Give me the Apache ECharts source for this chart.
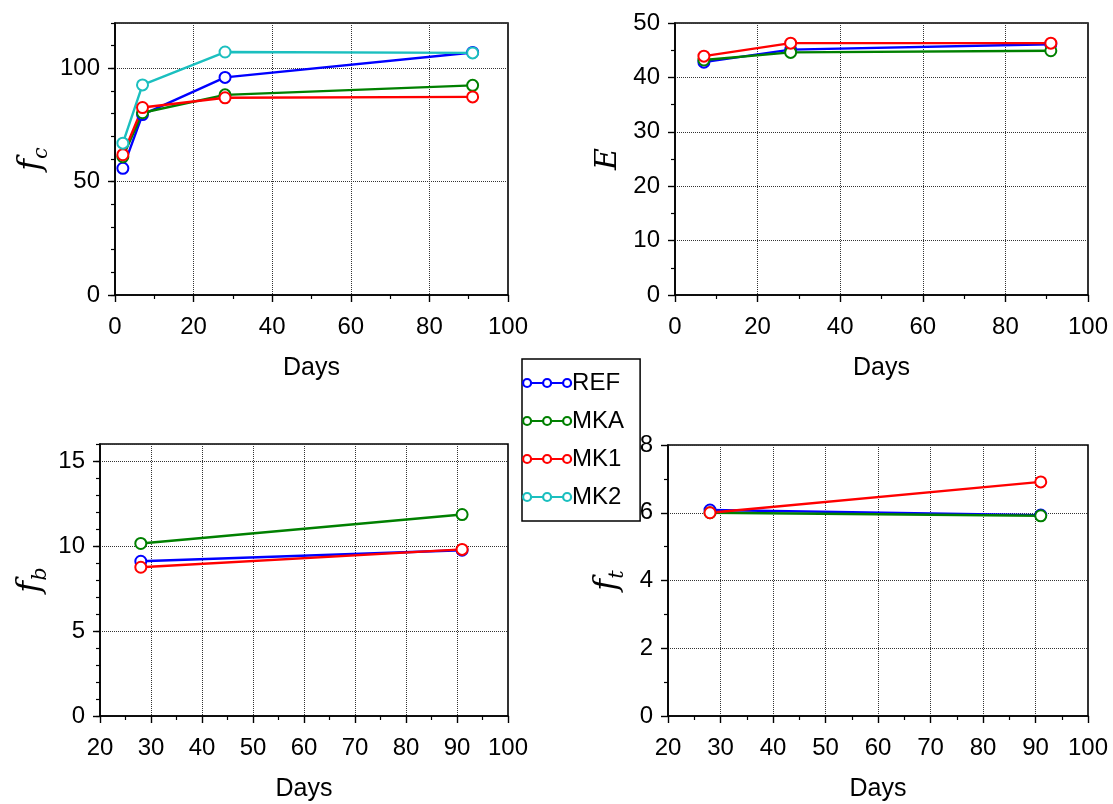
<!DOCTYPE html>
<html>
<head>
<meta charset="utf-8">
<script src="https://cdn.jsdelivr.net/npm/echarts@6/dist/echarts.min.js"></script>
<style>
html,body{margin:0;padding:0;background:#fff;}
#c{width:1113px;height:804px;}
</style>
</head>
<body>
<div id="c"></div>
<script>
// ---- data ----
const seriesNames = ['REF', 'MKA', 'MK1', 'MK2'];
const seriesColors = ['#0000ff', '#008000', '#ff0000', '#1bbfbf'];

// compressive strength fc
const fcDays = [2, 7, 28, 91];
const fcREF = [55.9, 79.6, 96.0, 107.0];
const fcMKA = [61.0, 80.4, 88.3, 92.5];
const fcMK1 = [61.9, 82.7, 87.0, 87.4];
const fcMK2 = [67.0, 92.7, 107.2, 106.8];

// elastic modulus E
const eDays = [7, 28, 91];
const eREF = [42.8, 45.1, 46.1];
const eMKA = [43.2, 44.6, 44.9];
const eMK1 = [43.9, 46.3, 46.3];

// flexural strength fb
const fbDays = [28, 91];
const fbREF = [9.1, 9.75];
const fbMKA = [10.15, 11.85];
const fbMK1 = [8.75, 9.8];

// tensile strength ft
const ftDays = [28, 91];
const ftREF = [6.08, 5.93];
const ftMKA = [6.0, 5.91];
const ftMK1 = [6.0, 6.91];

// ---- chart ----
const FONT = '"Liberation Sans", Arial, sans-serif';
const FS = 24;
const grids = [
  {left: 115, top: 23, width: 393, height: 272},
  {left: 675, top: 23, width: 413, height: 272},
  {left: 100, top: 444, width: 408, height: 272},
  {left: 668, top: 445, width: 420, height: 271}
];

function xAxis(gi, min, max, interval) {
  return {
    type: 'value', gridIndex: gi, min: min, max: max, interval: interval,
    name: 'Days', nameLocation: 'middle', nameGap: 61,
    nameTextStyle: {fontFamily: FONT, fontSize: 25, color: '#000'},
    axisLine: {show: true, onZero: false, lineStyle: {color: '#000', width: 1.6}},
    axisTick: {show: true, length: 7, lineStyle: {color: '#000', width: 1.4}},
    minorTick: {show: true, splitNumber: 2, length: 4, lineStyle: {color: '#000', width: 1.2}},
    axisLabel: {fontFamily: FONT, fontSize: FS, color: '#000', margin: 20, showMinLabel: true, showMaxLabel: true},
    splitLine: {show: true, lineStyle: {color: '#333', type: 'dotted', width: 1}}
  };
}
function yAxisMain(gi, min, max, interval, name, rich, nameGap, hideMaxTick) {
  return {
    type: 'value', gridIndex: gi, min: min, max: max, interval: interval,
    name: name, nameLocation: 'middle', nameGap: nameGap, nameRotate: 90,
    nameTextStyle: {rich: rich},
    axisLine: {show: true, onZero: false, lineStyle: {color: '#000', width: 1.6}},
    axisTick: {show: true, length: 7, lineStyle: {color: '#000', width: 1.4},
      interval: hideMaxTick ? function (i, v) { return v % interval === 0; } : 'auto'},
    axisLabel: {fontFamily: FONT, fontSize: FS, color: '#000', margin: 15,
      showMaxLabel: !hideMaxTick},
    splitLine: {show: true, lineStyle: {color: '#333', type: 'dotted', width: 1}}
  };
}
function yAxisMinor(gi, min, max, interval) {
  return {
    type: 'value', gridIndex: gi, min: min, max: max, interval: interval, position: 'left',
    axisLine: {show: false}, axisLabel: {show: false}, splitLine: {show: false},
    axisTick: {show: true, length: 4, lineStyle: {color: '#000', width: 1.2}}
  };
}

const richF = {
  f: {fontFamily: '"DejaVu Serif", serif', fontStyle: 'italic', fontSize: 32, lineHeight: 40, color: '#000'},
  s: {fontFamily: '"DejaVu Serif", serif', fontStyle: 'italic', fontSize: 21, lineHeight: 21, verticalAlign: 'bottom', color: '#000'}
};
const richE = {e: {fontFamily: '"DejaVu Serif", serif', fontStyle: 'italic', fontSize: 30, color: '#000'}};

function line(name, color, gi, xs, ys, yAxisIdx) {
  return {
    type: 'line', name: name, xAxisIndex: gi, yAxisIndex: yAxisIdx,
    data: xs.map((x, i) => [x, ys[i]]),
    symbol: 'emptyCircle', symbolSize: 11,
    lineStyle: {color: color, width: 2.4},
    itemStyle: {color: color, borderColor: color, borderWidth: 2.2},
    emphasis: {disabled: true}, z: 3
  };
}

const yAxes = [
  yAxisMain(0, 0, 120, 50, '{f|f}{s|c}', richF, 63, true),   // 0
  yAxisMinor(0, 0, 120, 10),                                   // 1
  yAxisMain(1, 0, 50, 10, '{e|E}', richE, 52, false),          // 2
  yAxisMain(2, 0, 16, 5, '{f|f}{s|b}', richF, 49, true),       // 3
  yAxisMinor(2, 0, 16, 1),                                     // 4
  yAxisMain(3, 0, 8, 2, '{f|f}{s|t}', richF, 40, false)        // 5
];
yAxes[2].minorTick = {show: true, splitNumber: 2, length: 4, lineStyle: {color: '#000', width: 1.2}};
yAxes[5].minorTick = {show: true, splitNumber: 2, length: 4, lineStyle: {color: '#000', width: 1.2}};

const series = [
  line('REF', seriesColors[0], 0, fcDays, fcREF, 0),
  line('MKA', seriesColors[1], 0, fcDays, fcMKA, 0),
  line('MK1', seriesColors[2], 0, fcDays, fcMK1, 0),
  line('MK2', seriesColors[3], 0, fcDays, fcMK2, 0),
  line('REF', seriesColors[0], 1, eDays, eREF, 2),
  line('MKA', seriesColors[1], 1, eDays, eMKA, 2),
  line('MK1', seriesColors[2], 1, eDays, eMK1, 2),
  line('REF', seriesColors[0], 2, fbDays, fbREF, 3),
  line('MKA', seriesColors[1], 2, fbDays, fbMKA, 3),
  line('MK1', seriesColors[2], 2, fbDays, fbMK1, 3),
  line('REF', seriesColors[0], 3, ftDays, ftREF, 5),
  line('MKA', seriesColors[1], 3, ftDays, ftMKA, 5),
  line('MK1', seriesColors[2], 3, ftDays, ftMK1, 5)
];

// legend icon: three open circles joined by a line
const legendIcon = 'path://M0,7a4,4 0 1,0 8,0a4,4 0 1,0 -8,0ZM8,7L20,7M20,7a4,4 0 1,0 8,0a4,4 0 1,0 -8,0ZM28,7L40,7M40,7a4,4 0 1,0 8,0a4,4 0 1,0 -8,0Z';

const chart = echarts.init(document.getElementById('c'), null, {renderer: 'canvas'});
chart.setOption({
  animation: false,
  backgroundColor: '#fff',
  grid: grids.map(g => Object.assign({show: true, borderColor: '#000', borderWidth: 1.6, backgroundColor: 'transparent', containLabel: false}, g)),
  xAxis: [xAxis(0, 0, 100, 20), xAxis(1, 0, 100, 20), xAxis(2, 20, 100, 10), xAxis(3, 20, 100, 10)],
  yAxis: yAxes,
  legend: {
    orient: 'vertical', left: 522, top: 359, z: 10,
    data: seriesNames.map((n, i) => ({
      name: n, icon: legendIcon,
      itemStyle: {color: '#fff', borderColor: seriesColors[i], borderWidth: 2.2}
    })),
    itemWidth: 48, itemHeight: 14, itemGap: 14,
    padding: [12, 16, 12, 0],
    borderColor: '#000', borderWidth: 1.5, backgroundColor: '#fff',
    textStyle: {fontFamily: FONT, fontSize: FS, color: '#000', padding: [0, 0, 0, -4]},
    selectedMode: false
  },
  series: series
});
</script>
</body>
</html>
